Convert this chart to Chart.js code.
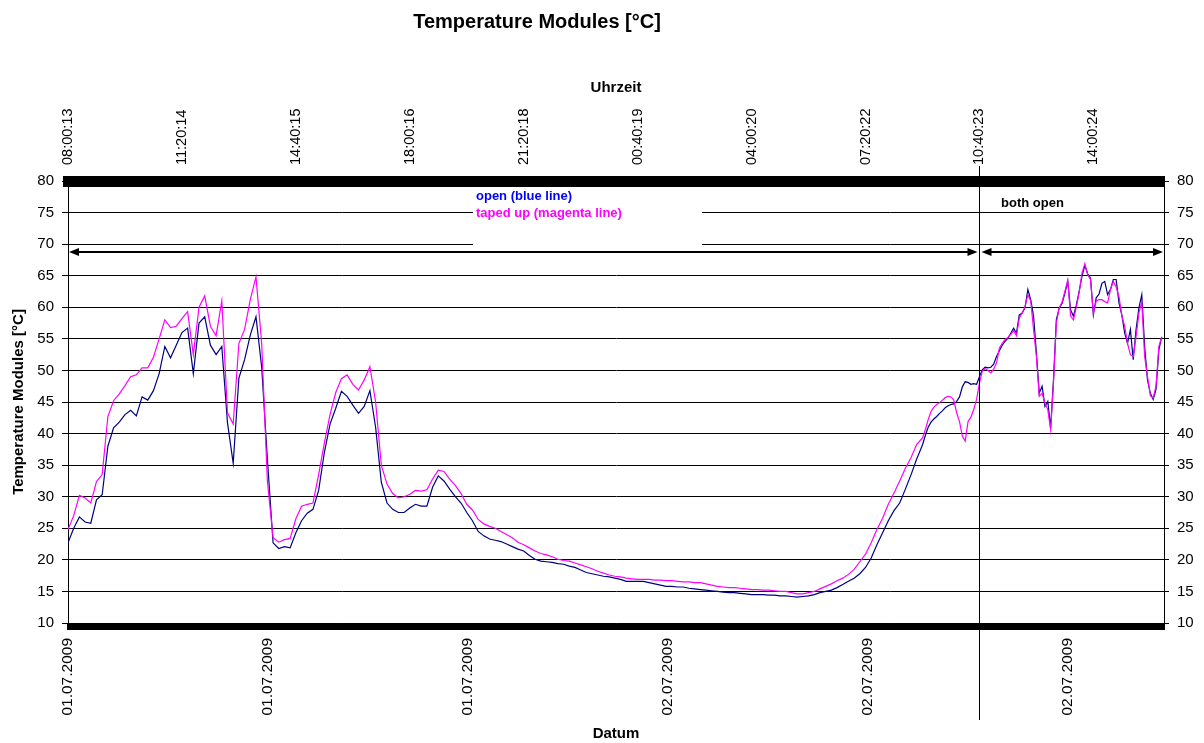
<!DOCTYPE html>
<html>
<head>
<meta charset="utf-8">
<title>Temperature Modules</title>
<script src="https://cdn.jsdelivr.net/npm/chart.js@4.4.1/dist/chart.umd.min.js"></script>
<style>
  html, body { margin: 0; padding: 0; background: #fff; }
  #wrap { width: 1204px; height: 743px; position: relative; }
</style>
</head>
<body>
<div id="wrap"><canvas id="tempChart"></canvas></div>
<script>
// minutes after 08:00:13 on 01.07.2009
const minutes = [
  0, 10, 20, 30, 40, 50, 60, 70, 80, 90,
  100, 110, 120, 130, 140, 150, 160, 170, 180, 190,
  200, 210, 220, 230, 240, 250, 260, 270, 280, 290,
  300, 310, 320, 330, 340, 350, 360, 370, 380, 390,
  400, 410, 420, 430, 440, 450, 460, 470, 480, 490,
  500, 510, 520, 530, 540, 550, 560, 570, 580, 590,
  600, 610, 620, 630, 640, 650, 660, 670, 680, 690,
  700, 710, 720, 730, 740, 750, 760, 770, 780, 790,
  800, 810, 820, 830, 840, 850, 860, 870, 880, 890,
  900, 910, 920, 930, 940, 950, 960, 970, 980, 990,
  1000, 1010, 1020, 1030, 1040, 1050, 1060, 1070, 1080, 1090,
  1100, 1110, 1120, 1130, 1140, 1150, 1160, 1170, 1180, 1190,
  1200, 1210, 1220, 1230, 1240, 1250, 1260, 1270, 1280, 1290,
  1300, 1310, 1320, 1330, 1340, 1350, 1360, 1370, 1380, 1390,
  1400, 1410, 1420, 1430, 1440, 1450, 1460, 1470, 1480, 1490,
  1500, 1505, 1510, 1515, 1520, 1525, 1530, 1535, 1540, 1545,
  1550, 1555, 1560, 1565, 1570, 1575, 1580, 1585, 1590, 1595,
  1600, 1605, 1610, 1615, 1620, 1625, 1630, 1635, 1640, 1645,
  1650, 1655, 1660, 1665, 1670, 1675, 1680, 1685, 1690, 1695,
  1700, 1705, 1710, 1715, 1720, 1725, 1730, 1735, 1740, 1745,
  1750, 1755, 1760, 1765, 1770, 1775, 1780, 1785, 1790, 1795,
  1800, 1805, 1810, 1815, 1820, 1825, 1830, 1835, 1840, 1845,
  1850, 1855, 1860, 1865, 1870, 1875, 1880, 1885, 1890, 1895,
  1900, 1905, 1910, 1915, 1920
];

// open module (blue line)
const openTemps = [
  22.7, 25.0, 26.8, 26.0, 25.8, 29.5, 30.3, 38.0, 40.9, 41.8,
  43.0, 43.7, 42.8, 45.8, 45.3, 46.8, 49.5, 53.8, 52.0, 54.0,
  56.0, 56.7, 49.5, 57.5, 58.5, 54.0, 52.5, 53.8, 41.7, 35.3,
  48.8, 51.7, 55.6, 58.5, 50.5, 36.0, 22.7, 21.8, 22.1, 21.9,
  24.3, 26.2, 27.4, 28.0, 31.0, 37.0, 41.5, 44.0, 46.7, 45.9,
  44.5, 43.2, 44.3, 46.8, 41.0, 32.3, 29.0, 28.0, 27.5, 27.5,
  28.2, 28.8, 28.5, 28.5, 31.5, 33.3, 32.5, 31.2, 30.0, 29.0,
  27.5, 26.2, 24.5, 23.8, 23.3, 23.1, 22.9, 22.5, 22.1, 21.7,
  21.4, 20.7, 20.1, 19.8, 19.7, 19.6, 19.4, 19.3, 19.0, 18.8,
  18.4, 18.0, 17.8, 17.6, 17.4, 17.3, 17.1, 16.9, 16.6, 16.6,
  16.6, 16.6, 16.4, 16.2, 16.0, 15.8, 15.8, 15.7, 15.7, 15.5,
  15.4, 15.3, 15.2, 15.1, 15.0, 14.9, 14.8, 14.8, 14.7, 14.6,
  14.5, 14.5, 14.5, 14.4, 14.4, 14.3, 14.3, 14.2, 14.1, 14.2,
  14.3, 14.5, 14.8, 15.0, 15.2, 15.6, 16.1, 16.6, 17.1, 17.8,
  18.8, 20.3, 22.4, 24.3, 26.2, 27.8, 29.0, 31.2, 33.5, 36.0,
  38.2, 39.7, 41.0, 41.8, 42.3, 42.7, 43.2, 43.6, 44.1, 44.4,
  44.6, 44.7, 45.1, 45.8, 47.4, 48.2, 48.1, 47.8, 47.9, 47.8,
  49.0, 50.1, 50.5, 50.4, 50.5, 51.0, 52.2, 53.1, 54.0, 54.6,
  55.1, 55.9, 56.7, 55.9, 58.8, 59.1, 59.9, 62.8, 61.2, 58.6,
  52.8, 46.4, 47.5, 44.3, 45.1, 40.9, 48.5, 58.0, 59.9, 60.6,
  62.2, 64.1, 59.6, 58.6, 60.3, 62.5, 64.9, 66.6, 65.3, 64.6,
  58.8, 61.5, 62.1, 63.8, 64.1, 62.0, 62.8, 64.4, 64.4, 60.7,
  58.8, 55.9, 54.3, 56.5, 51.7, 56.5, 59.9, 62.0, 53.8, 48.5,
  46.4, 45.4, 47.0, 53.3, 55.3
];

// taped up module (magenta line)
const tapedTemps = [
  24.8, 27.0, 30.2, 29.8, 29.0, 32.4, 33.5, 42.7, 45.2, 46.3,
  47.6, 49.0, 49.3, 50.4, 50.4, 52.1, 55.0, 58.0, 56.8, 57.0,
  58.2, 59.3, 52.5, 60.0, 61.8, 57.0, 55.5, 61.0, 43.3, 41.5,
  54.3, 56.5, 61.2, 64.8, 54.3, 32.5, 23.5, 22.8, 23.2, 23.4,
  26.5, 28.5, 28.8, 29.0, 33.5, 38.5, 43.0, 46.5, 48.7, 49.3,
  47.8, 46.9, 48.5, 50.6, 45.0, 35.0, 32.0, 30.5, 29.8, 30.0,
  30.4, 31.0, 30.9, 31.1, 32.8, 34.2, 34.0, 32.8, 31.8, 30.5,
  28.8, 27.9, 26.4, 25.7, 25.3, 25.0, 24.5, 24.0, 23.5, 22.8,
  22.4, 21.9, 21.4, 21.0, 20.8, 20.5, 20.1, 19.9, 19.8, 19.5,
  19.2, 18.9, 18.6, 18.2, 17.9, 17.6, 17.4, 17.3, 17.1, 17.0,
  16.9, 16.9, 16.9, 16.8, 16.8, 16.7, 16.7, 16.6, 16.5, 16.5,
  16.4, 16.4, 16.2, 16.0, 15.8, 15.7, 15.6, 15.6, 15.5, 15.4,
  15.3, 15.3, 15.2, 15.2, 15.1, 15.0, 15.0, 14.8, 14.6, 14.6,
  14.8, 15.0, 15.4, 15.8, 16.2, 16.7, 17.1, 17.7, 18.5, 19.7,
  20.9, 22.7, 24.8, 26.6, 28.8, 30.6, 32.5, 34.5, 36.2, 38.3,
  39.3, 40.6, 42.2, 43.5, 44.2, 44.6, 44.9, 45.3, 45.7, 45.9,
  45.8, 45.3, 43.3, 41.9, 39.6, 38.8, 41.9, 42.6, 43.8, 45.4,
  48.0, 49.9, 50.3, 50.0, 49.6, 50.2, 51.2, 53.5, 54.3, 54.9,
  55.2, 55.7, 56.3, 55.5, 58.3, 59.1, 60.1, 62.0, 61.0, 56.5,
  52.2, 45.9, 46.4, 44.8, 43.8, 40.6, 48.0, 57.5, 59.9, 60.8,
  62.5, 64.3, 58.6, 58.0, 60.0, 62.3, 65.4, 66.9, 65.2, 64.4,
  59.1, 61.0, 61.2, 61.2, 60.9, 60.7, 62.8, 64.1, 63.2, 61.7,
  58.6, 57.0, 54.3, 52.5, 52.2, 55.4, 59.1, 60.9, 52.2, 49.1,
  46.0, 45.6, 47.5, 53.8, 55.3
];

// top axis: clock time every 200 minutes
const timeLabels = ['08:00:13', '11:20:14', '14:40:15', '18:00:16', '21:20:18',
                    '00:40:19', '04:00:20', '07:20:22', '10:40:23', '14:00:24'];
const timeStep = 200;

// bottom axis: date every 351 minutes
const dateLabels = ['01.07.2009', '01.07.2009', '01.07.2009', '02.07.2009', '02.07.2009', '02.07.2009'];
const dateStep = 351;

const xEnd = 1924;        // last minute of the record
const bothOpenAt = 1600;  // 10:40:23, tape removed
const arrowLevel = 68.7;  // °C level of the phase arrows

const FONT = 'Arial, "Liberation Sans", sans-serif';
Chart.defaults.font.family = FONT;
Chart.defaults.color = '#000';

function drawArrow(ctx, x1, x2, y) {
    ctx.beginPath();
    ctx.moveTo(x1 + 6, y);
    ctx.lineTo(x2 - 6, y);
    ctx.stroke();
    ctx.beginPath();
    ctx.moveTo(x1, y);
    ctx.lineTo(x1 + 10, y - 4);
    ctx.lineTo(x1 + 10, y + 4);
    ctx.closePath();
    ctx.fill();
    ctx.beginPath();
    ctx.moveTo(x2, y);
    ctx.lineTo(x2 - 10, y - 4);
    ctx.lineTo(x2 - 10, y + 4);
    ctx.closePath();
    ctx.fill();
}

const notesPlugin = {
    id: 'notes',
    afterDraw(chart) {
        const ctx = chart.ctx;
        const area = chart.chartArea;
        const xs = chart.scales.x;
        const ys = chart.scales.y;
        const splitX = Math.round(xs.getPixelForValue(bothOpenAt)) + 0.5;
        const arrowY = Math.round(ys.getPixelForValue(arrowLevel));

        ctx.save();
        // legend box hides the grid lines behind it
        ctx.fillStyle = '#fff';
        ctx.fillRect(473, 187, 229, 60);
        ctx.font = 'bold 13px ' + FONT;
        ctx.textBaseline = 'middle';
        ctx.textAlign = 'left';
        ctx.fillStyle = '#0000ff';
        ctx.fillText('open (blue line)', 476, 196);
        ctx.fillStyle = '#ff00ff';
        ctx.fillText('taped up (magenta line)', 476, 213);
        ctx.fillStyle = '#000';
        ctx.fillText('both open', 1001, 203);

        // phase split line
        ctx.strokeStyle = '#000';
        ctx.lineWidth = 1;
        ctx.beginPath();
        ctx.moveTo(splitX, 166);
        ctx.lineTo(splitX, 720);
        ctx.stroke();

        // phase arrows
        ctx.lineWidth = 2;
        drawArrow(ctx, area.left + 1, splitX - 2, arrowY);
        drawArrow(ctx, splitX + 2, area.right - 1, arrowY);

        // main title
        ctx.font = 'bold 20px ' + FONT;
        ctx.textAlign = 'center';
        ctx.fillText('Temperature Modules [°C]', 537, 22);
        ctx.restore();
    }
};

const ctx = document.getElementById('tempChart').getContext('2d');

const tempChart = new Chart(ctx, {
    type: 'line',
    data: {
        datasets: [{
            label: 'open (blue line)',
            data: minutes.map((m, i) => ({ x: m, y: openTemps[i] })),
            borderColor: '#000080',
            borderWidth: 1.2,
            pointRadius: 0,
            order: 1
        }, {
            label: 'taped up (magenta line)',
            data: minutes.map((m, i) => ({ x: m, y: tapedTemps[i] })),
            borderColor: '#ff00ff',
            borderWidth: 1.2,
            pointRadius: 0,
            order: 0
        }]
    },
    options: {
        responsive: true,
        maintainAspectRatio: false,
        animation: false,
        devicePixelRatio: 1,
        layout: { padding: 0 },
        plugins: {
            legend: { display: false },
            tooltip: { enabled: false }
        },
        scales: {
            x: {
                type: 'linear',
                position: 'bottom',
                min: 0,
                max: xEnd,
                afterBuildTicks: scale => {
                    // dense tick marks, like the original category axis
                    const ticks = [];
                    for (let v = 0; v <= xEnd; v += 3) ticks.push({ value: v });
                    scale.ticks = ticks;
                },
                afterFit: scale => { scale.height = 120; },
                ticks: {
                    autoSkip: false,
                    minRotation: 90,
                    maxRotation: 90,
                    padding: 8,
                    font: { size: 15.5 },
                    callback: v => (v % dateStep === 0 ? dateLabels[v / dateStep] : '')
                },
                grid: { drawOnChartArea: false, tickLength: 7, tickWidth: 3, tickColor: '#000' },
                border: { color: '#000', width: 1 },
                title: {
                    display: true,
                    text: 'Datum',
                    font: { size: 15, weight: 'bold' },
                    padding: { top: 0, bottom: 0 }
                }
            },
            xTop: {
                type: 'linear',
                position: 'top',
                min: 0,
                max: xEnd,
                afterBuildTicks: scale => {
                    scale.ticks = timeLabels.map((t, i) => ({ value: i * timeStep }));
                },
                afterFit: scale => { scale.height = 181; },
                ticks: {
                    autoSkip: false,
                    minRotation: 90,
                    maxRotation: 90,
                    padding: 16,
                    labelOffset: 17.4,
                    font: { size: 14.5 },
                    callback: (v, i) => timeLabels[i]
                },
                grid: { drawOnChartArea: false, drawTicks: false },
                border: { color: '#000', width: 11 },
                title: {
                    display: true,
                    text: 'Uhrzeit',
                    font: { size: 15, weight: 'bold' },
                    padding: { top: 79, bottom: 0 }
                }
            },
            y: {
                position: 'left',
                min: 10,
                max: 80,
                afterFit: scale => { scale.width = 68; },
                ticks: { stepSize: 5, padding: 8, font: { size: 15 } },
                grid: { color: '#000', tickLength: 6 },
                border: { color: '#000' },
                title: {
                    display: true,
                    text: 'Temperature Modules [°C]',
                    font: { size: 15, weight: 'bold' },
                    padding: { top: 10, bottom: 0 }
                }
            },
            yRight: {
                position: 'right',
                min: 10,
                max: 80,
                afterFit: scale => { scale.width = 40; },
                ticks: { stepSize: 5, padding: 8, font: { size: 15 } },
                grid: { drawOnChartArea: false, color: '#000', tickLength: 5 },
                border: { color: '#000' }
            }
        }
    },
    plugins: [notesPlugin]
});
</script>
</body>
</html>
